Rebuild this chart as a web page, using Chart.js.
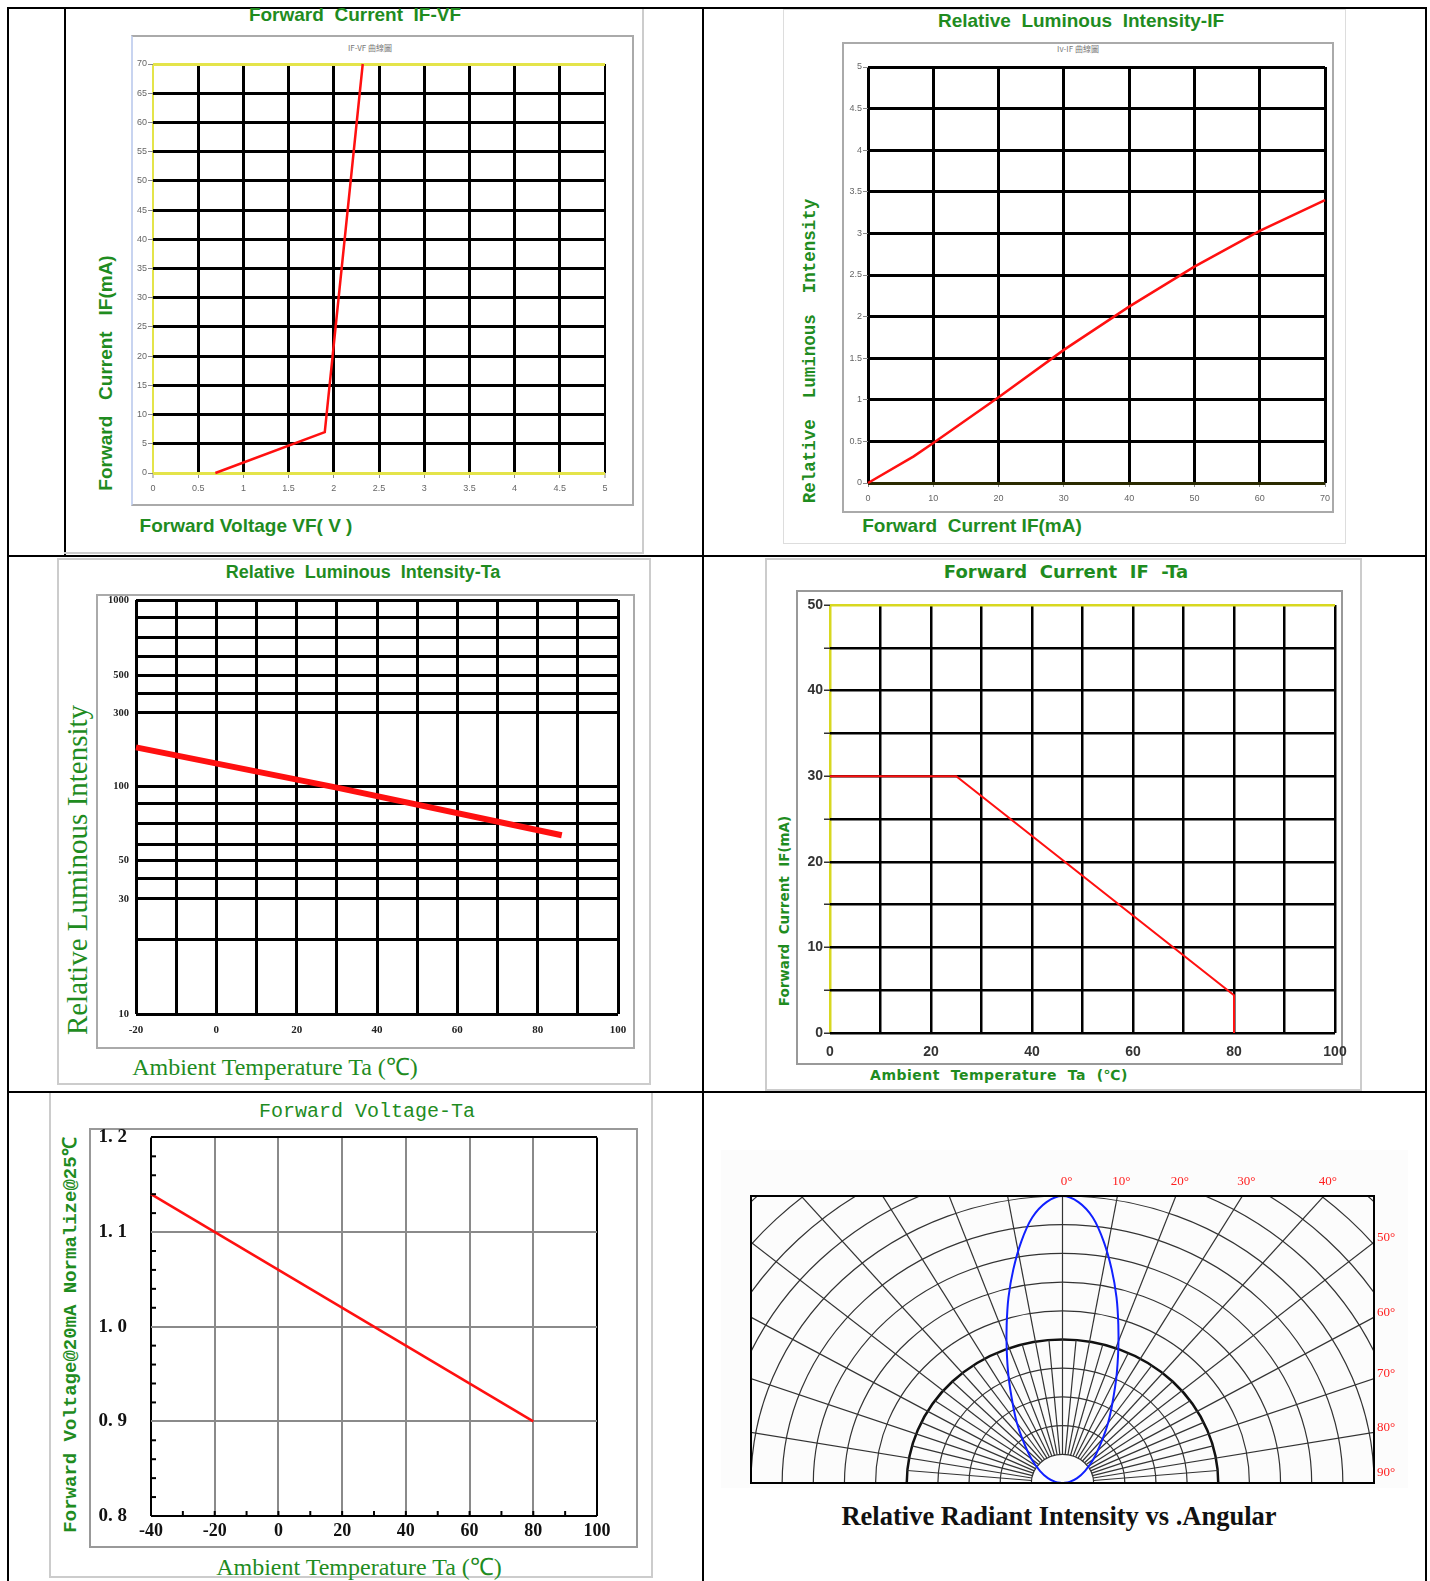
<!DOCTYPE html>
<html>
<head>
<meta charset="utf-8">
<script src="https://cdn.jsdelivr.net/npm/chart.js@4.4.0/dist/chart.umd.min.js"></script>
<style>
body { margin: 0; width: 1430px; height: 1581px; position: relative; background: #fff; overflow: hidden; font-family: 'Liberation Sans', Arial, sans-serif; }
.ln { position: absolute; background: #000; }
.box { position: absolute; box-sizing: border-box; }
.t { position: absolute; white-space: pre; color: #1f8c1f; line-height: 1; }
.c { transform: translate(-50%, -50%); }
.r { transform: translate(-50%, -50%) rotate(-90deg); }
canvas { position: absolute; }
</style>
</head>
<body>
<!-- table lines -->
<div class="ln" style="left:7px;top:7px;width:2px;height:1574px"></div>
<div class="ln" style="left:1425px;top:7px;width:2px;height:1574px"></div>
<div class="ln" style="left:702px;top:7px;width:2px;height:1574px"></div>
<div class="ln" style="left:7px;top:7px;width:1420px;height:2px"></div>
<div class="ln" style="left:7px;top:555px;width:1420px;height:2px"></div>
<div class="ln" style="left:7px;top:1091px;width:1420px;height:2px"></div>
<div class="ln" style="left:64px;top:7px;width:2px;height:549px"></div>

<!-- picture frames -->
<div class="box" style="left:64px;top:9px;width:580px;height:545px;border-right:2px solid #ccc;border-bottom:2px solid #ccc"></div>
<div class="box" style="left:131px;top:35px;width:503px;height:471px;border:2px solid #aaa;border-left-color:#c8d4f0"></div>
<div class="box" style="left:783px;top:9px;width:563px;height:535px;border:1px solid #ddd"></div>
<div class="box" style="left:842px;top:42px;width:492px;height:471px;border:2px solid #aaa"></div>
<div class="box" style="left:57px;top:558px;width:594px;height:527px;border:2px solid #ccc"></div>
<div class="box" style="left:96px;top:594px;width:539px;height:455px;border:2px solid #aaa"></div>
<div class="box" style="left:765px;top:558px;width:597px;height:533px;border:2px solid #ccc"></div>
<div class="box" style="left:796px;top:590px;width:547px;height:475px;border:2px solid #999"></div>
<div class="box" style="left:49px;top:1093px;width:604px;height:485px;border:2px solid #ccc;border-top:none"></div>
<div class="box" style="left:89px;top:1128px;width:549px;height:420px;border:2px solid #999"></div>
<div class="box" style="left:721px;top:1150px;width:687px;height:338px;background:#fcfcfc"></div>

<!-- texts -->
<div class="t c" style="left:355px;top:15px;font:bold 19px 'Liberation Sans'">Forward  Current  IF-VF</div>
<div class="t c" style="left:370px;top:47px;font:8px 'Noto Sans CJK SC';color:#777">IF-VF 曲線圖</div>
<div class="t r" style="left:106px;top:373px;font:bold 19px 'Liberation Sans'">Forward   Current   IF(mA)</div>
<div class="t c" style="left:246px;top:526px;font:bold 19px 'Liberation Sans'">Forward Voltage VF( V )</div>

<div class="t c" style="left:1081px;top:21px;font:bold 19px 'Liberation Sans'">Relative  Luminous  Intensity-IF</div>
<div class="t c" style="left:1078px;top:48px;font:8px 'Noto Sans CJK SC';color:#777">Iv-IF 曲線圖</div>
<div class="t r" style="left:810px;top:351px;font:bold 17.5px 'Liberation Mono'">Relative  Luminous  Intensity</div>
<div class="t c" style="left:972px;top:526px;font:bold 19px 'Liberation Sans'">Forward  Current IF(mA)</div>

<div class="t c" style="left:363px;top:572px;font:bold 18px 'Liberation Sans'">Relative  Luminous  Intensity-Ta</div>
<div class="t r" style="left:77px;top:870px;font:29px 'Liberation Serif'">Relative Luminous Intensity</div>
<div class="t c" style="left:275px;top:1065px;font:24px 'Liberation Serif'">Ambient Temperature Ta (℃)</div>

<div class="t c" style="left:1066px;top:571px;font:bold 18px 'DejaVu Sans'">Forward  Current  IF  -Ta</div>
<div class="t r" style="left:784px;top:911px;font:bold 13.5px 'DejaVu Sans'">Forward  Current  IF(mA)</div>
<div class="t c" style="left:999px;top:1075px;font:bold 14px 'DejaVu Sans';letter-spacing:0.5px">Ambient  Temperature  Ta  (℃)</div>

<div class="t c" style="left:367px;top:1111px;font:20px 'Liberation Mono'">Forward Voltage-Ta</div>
<div class="t r" style="left:69px;top:1335px;font:bold 19px 'Liberation Mono'">Forward Voltage@20mA Normalize@25℃</div>
<div class="t c" style="left:359px;top:1565px;font:24px 'Liberation Serif'">Ambient Temperature Ta (℃)</div>

<div class="t c" style="left:1059px;top:1516px;font:bold 26.5px 'Liberation Serif';color:#111">Relative Radiant Intensity vs .Angular</div>

<canvas id="ifvf"></canvas>
<canvas id="ivif"></canvas>
<canvas id="ivta"></canvas>
<canvas id="ifta"></canvas>
<canvas id="vfta"></canvas>
<canvas id="angle"></canvas>

<script>
// IF-VF curve
const vfVolt = [0.69, 1.9, 2.32];
const vfCurrent = [0, 7, 70];

// relative luminous intensity vs IF
const ifCurrent = [0, 7, 10, 20, 30, 40, 50, 60, 70];
const ivRelative = [0, 0.32, 0.48, 1.03, 1.6, 2.12, 2.6, 3.03, 3.4];

// relative luminous intensity vs Ta (log axis)
const lumTemp = [-20, 30, 86];
const lumValue = [194, 124, 73];
const lumGrid = [10, 23, 36, 45, 55, 66, 83, 104, 126, 285, 353, 431, 534, 662, 822, 1000];
const lumTickText = { 10: '10', 36: '30', 55: '50', 126: '100', 285: '300', 431: '500', 1000: '1000' };

// forward current derating
const deratTemp = [0, 25, 80, 80];
const deratCurrent = [30, 30, 4.4, 0];

// forward voltage vs Ta
const vfTemp = [-40, 80];
const vfNorm = [1.14, 0.9];

// radiation pattern (half, mirrored)
const lobeAngle = [0, 3, 6, 9, 12, 15, 18, 21, 25, 30, 35, 40, 50, 60, 70, 80, 90];
const lobeIntensity = [1.0, 0.98, 0.93, 0.85, 0.76, 0.67, 0.58, 0.5, 0.41, 0.32, 0.255, 0.2, 0.13, 0.083, 0.05, 0.023, 0];
const topAngleLabels = [0, 10, 20, 30, 40];
const sideAngleLabels = [50, 60, 70, 80, 90];


const toPoints = (xs, ys) => xs.map((x, i) => ({ x: x, y: ys[i] }));

const place = (id, left, top, width, height) => {
    const cv = document.getElementById(id);
    cv.width = width;
    cv.height = height;
    cv.style.left = left + 'px';
    cv.style.top = top + 'px';
    return cv.getContext('2d');
}

const fixWidth = w => s => { s.width = w; };
const fixHeight = h => s => { s.height = h; };
const plain = v => String(+v.toFixed(2));

const baseOptions = (pad) => ({
    responsive: false,
    animation: false,
    events: [],
    layout: { padding: pad, autoPadding: false },
    plugins: { legend: { display: false }, tooltip: { enabled: false } },
});

const redLine = (xs, ys, width) => ({
    data: toPoints(xs, ys),
    showLine: true,
    borderColor: '#ff1010',
    borderWidth: width,
    pointRadius: 0,
    clip: false,
});

const YELLOW = '#e4e44a';
const NONE = 'rgba(0,0,0,0)';

// Chart 1: IF-VF
new Chart(place('ifvf', 120, 50, 500, 450), {
    type: 'scatter',
    data: { datasets: [redLine(vfVolt, vfCurrent, 2.5)] },
    options: {
        ...baseOptions({ left: 0, top: 14, right: 15, bottom: 0 }),
        scales: {
            x: {
                min: 0, max: 5,
                afterFit: fixHeight(27),
                border: { display: false },
                grid: {
                    color: c => c.tick.value === 0 ? YELLOW : '#000',
                    lineWidth: c => (c.tick.value === 0 || c.tick.value === 5) ? 2 : 3,
                    tickColor: '#888', tickLength: 5, tickWidth: 1,
                },
                ticks: { stepSize: 0.5, padding: 5, color: '#666', font: { size: 9 }, maxRotation: 0, callback: plain },
            },
            y: {
                min: 0, max: 70,
                afterFit: fixWidth(33),
                border: { display: false },
                grid: {
                    color: c => (c.tick.value === 0 || c.tick.value === 70) ? YELLOW : '#000',
                    lineWidth: 3,
                    tickColor: '#888', tickLength: 5, tickWidth: 1,
                },
                ticks: { stepSize: 5, padding: 1, color: '#666', font: { size: 9 } },
            },
        },
    },
});

// Chart 2: Iv-IF
new Chart(place('ivif', 845, 55, 495, 450), {
    type: 'scatter',
    data: { datasets: [redLine(ifCurrent, ivRelative, 2.5)] },
    options: {
        ...baseOptions({ left: 0, top: 12, right: 15, bottom: 0 }),
        scales: {
            x: {
                min: 0, max: 70,
                afterFit: fixHeight(22),
                border: { display: false },
                grid: { color: '#000', lineWidth: 3, tickColor: '#888', tickLength: 4, tickWidth: 1 },
                ticks: { stepSize: 10, padding: 6, color: '#666', font: { size: 9 }, maxRotation: 0 },
            },
            y: {
                min: 0, max: 5,
                afterFit: fixWidth(23),
                border: { display: false },
                grid: {
                    color: c => c.tick.value === 0 ? '#2a2a00' : '#000',
                    lineWidth: 3, tickColor: '#888', tickLength: 5, tickWidth: 1,
                },
                ticks: { stepSize: 0.5, padding: 1, color: '#666', font: { size: 9 }, callback: plain },
            },
        },
    },
});

// Chart 3: Iv-Ta on log axis
new Chart(place('ivta', 100, 590, 550, 455), {
    type: 'scatter',
    data: { datasets: [redLine(lumTemp, lumValue, 6)] },
    options: {
        ...baseOptions({ left: 0, top: 10, right: 32, bottom: 0 }),
        scales: {
            x: {
                min: -20, max: 100,
                afterFit: fixHeight(31),
                border: { display: false },
                grid: { color: '#000', lineWidth: 3, tickColor: NONE, tickLength: 10 },
                ticks: {
                    stepSize: 10, padding: 0, color: '#222', maxRotation: 0, autoSkip: false,
                    font: { size: 11, weight: 'bold', family: 'Liberation Serif' },
                    callback: v => v % 20 === 0 ? String(v) : '',
                },
            },
            y: {
                type: 'logarithmic',
                min: 10, max: 1000,
                afterFit: fixWidth(36),
                afterBuildTicks: s => { s.ticks = lumGrid.map(v => ({ value: v })); },
                border: { display: false },
                grid: { color: '#000', lineWidth: 3, tickColor: NONE, tickLength: 7 },
                ticks: {
                    padding: 0, color: '#222', autoSkip: false,
                    font: { size: 10.5, weight: 'bold', family: 'Liberation Serif' },
                    callback: v => lumTickText[v] || '',
                },
            },
        },
    },
});

// Chart 4: IF-Ta derating
new Chart(place('ifta', 795, 592, 570, 470), {
    type: 'scatter',
    data: { datasets: [redLine(deratTemp, deratCurrent, 2)] },
    options: {
        ...baseOptions({ left: 0, top: 13, right: 30, bottom: 0 }),
        scales: {
            x: {
                min: 0, max: 100,
                afterFit: fixHeight(29),
                border: { display: false },
                grid: {
                    color: c => c.tick.value === 0 ? '#d8d820' : '#000',
                    lineWidth: 2.5, tickColor: NONE, tickLength: 11,
                },
                ticks: {
                    stepSize: 10, padding: 0, color: '#333', maxRotation: 0, autoSkip: false,
                    font: { size: 14, weight: 'bold' },
                    callback: v => v % 20 === 0 ? String(v) : '',
                },
            },
            y: {
                min: 0, max: 50,
                afterFit: fixWidth(35),
                border: { display: false },
                grid: {
                    color: c => c.tick.value === 50 ? '#d8d820' : '#000',
                    lineWidth: 2.5, tickColor: '#333', tickLength: 6, tickWidth: 1.5,
                },
                ticks: {
                    stepSize: 5, padding: 1, color: '#333', autoSkip: false,
                    font: { size: 14, weight: 'bold' },
                    callback: v => v % 10 === 0 ? String(v) : '',
                },
            },
        },
    },
});

// Chart 5: VF-Ta
const minorTicks = {
    id: 'minorTicks',
    afterDatasetsDraw(chart) {
        const { ctx, chartArea: a, scales: { x, y } } = chart;
        ctx.save();
        ctx.strokeStyle = '#000';
        ctx.lineWidth = 2;
        for (let v = -30; v < 100; v += 10) {
            const px = x.getPixelForValue(v);
            ctx.beginPath(); ctx.moveTo(px, a.bottom); ctx.lineTo(px, a.bottom - 5); ctx.stroke();
        }
        for (let k = 41; k < 60; k++) {
            if (k % 5 === 0) continue;
            const py = y.getPixelForValue(k * 0.02);
            ctx.beginPath(); ctx.moveTo(a.left, py); ctx.lineTo(a.left + 5, py); ctx.stroke();
        }
        ctx.restore();
    }
};

const isEdge = (v, lo, hi) => Math.abs(v - lo) < 1e-6 || Math.abs(v - hi) < 1e-6;

new Chart(place('vfta', 90, 1126, 545, 419), {
    type: 'scatter',
    data: { datasets: [redLine(vfTemp, vfNorm, 2.5)] },
    options: {
        ...baseOptions({ left: 0, top: 7, right: 38, bottom: 0 }),
        scales: {
            x: {
                min: -40, max: 100,
                afterFit: fixHeight(29),
                border: { display: false },
                grid: {
                    color: c => isEdge(c.tick.value, -40, 100) ? '#000' : '#8a8a8a',
                    lineWidth: 2, tickColor: NONE, tickLength: 5,
                },
                ticks: {
                    stepSize: 20, padding: 0, color: '#111', maxRotation: 0,
                    font: { size: 18, weight: 'bold', family: 'Liberation Serif' },
                },
            },
            y: {
                min: 0.8, max: 1.2,
                afterFit: fixWidth(61),
                border: { display: false },
                grid: {
                    color: c => isEdge(c.tick.value, 0.8, 1.2) ? '#000' : '#8a8a8a',
                    lineWidth: 2, tickColor: NONE, tickLength: 24,
                },
                ticks: {
                    stepSize: 0.1, padding: 0, color: '#111',
                    font: { size: 19, weight: 'bold', family: 'Liberation Serif' },
                    callback: v => v.toFixed(1).replace('.', '. '),
                },
            },
        },
    },
    plugins: [minorTicks],
});

// Chart 6: radiation pattern
const polarGrid = {
    id: 'polarGrid',
    beforeDatasetsDraw(chart) {
        const { ctx, chartArea: a, scales: { x, y } } = chart;
        const cx = x.getPixelForValue(0), cy = y.getPixelForValue(0);
        const ux = x.getPixelForValue(1) - cx, uy = cy - y.getPixelForValue(1);
        ctx.save();
        ctx.beginPath();
        ctx.rect(a.left, a.top, a.right - a.left, a.bottom - a.top);
        ctx.clip();
        for (let k = 1; k <= 15; k++) {
            const r = k / 10;
            ctx.beginPath();
            ctx.ellipse(cx, cy, r * ux, r * uy, 0, Math.PI, 2 * Math.PI);
            ctx.lineWidth = k === 5 ? 2.5 : 1.2;
            ctx.strokeStyle = k === 5 ? '#111' : '#333';
            ctx.stroke();
        }
        for (let deg = -90; deg <= 90; deg += 5) {
            const outer = deg % 10 === 0 ? 2 : 0.5;
            const s = Math.sin(deg * Math.PI / 180), c = Math.cos(deg * Math.PI / 180);
            ctx.beginPath();
            ctx.moveTo(cx + 0.1 * s * ux, cy - 0.1 * c * uy);
            ctx.lineTo(cx + outer * s * ux, cy - outer * c * uy);
            ctx.lineWidth = 1.2;
            ctx.strokeStyle = '#333';
            ctx.stroke();
        }
        ctx.restore();

        ctx.save();
        ctx.fillStyle = '#ff2020';
        ctx.font = "13px 'Liberation Serif'";
        ctx.textBaseline = 'middle';
        ctx.textAlign = 'center';
        topAngleLabels.forEach(d => {
            const px = cx + Math.tan(d * Math.PI / 180) * ux;
            ctx.fillText(d + '°', px + 4, a.top - 14);
        });
        ctx.textAlign = 'left';
        sideAngleLabels.forEach(d => {
            const py = cy - uy / Math.tan(d * Math.PI / 180);
            ctx.fillText(d + '°', a.right + 3, Math.min(py - 5, a.bottom - 10));
        });
        ctx.restore();
    },
    afterDatasetsDraw(chart) {
        const { ctx, chartArea: a } = chart;
        ctx.save();
        ctx.strokeStyle = '#000';
        ctx.lineWidth = 2;
        ctx.strokeRect(a.left, a.top, a.right - a.left, a.bottom - a.top);
        ctx.restore();
    }
};

const lobeLeft = lobeAngle.slice().reverse().map((d, i) => {
    const r = lobeIntensity[lobeAngle.length - 1 - i];
    return { x: -r * Math.sin(d * Math.PI / 180), y: r * Math.cos(d * Math.PI / 180) };
});
const lobeRight = lobeAngle.slice(1).map((d, i) => {
    const r = lobeIntensity[i + 1];
    return { x: r * Math.sin(d * Math.PI / 180), y: r * Math.cos(d * Math.PI / 180) };
});

new Chart(place('angle', 745, 1170, 660, 320), {
    type: 'scatter',
    data: {
        datasets: [{
            data: lobeLeft.concat(lobeRight),
            showLine: true,
            borderColor: '#1020ff',
            borderWidth: 2,
            pointRadius: 0,
            tension: 0.35,
            clip: false,
        }],
    },
    options: {
        ...baseOptions({ left: 6, top: 26, right: 31, bottom: 7 }),
        scales: {
            x: { display: false, min: -1, max: 1 },
            y: { display: false, min: 0, max: 1 },
        },
    },
    plugins: [polarGrid],
});
</script>
</body>
</html>
